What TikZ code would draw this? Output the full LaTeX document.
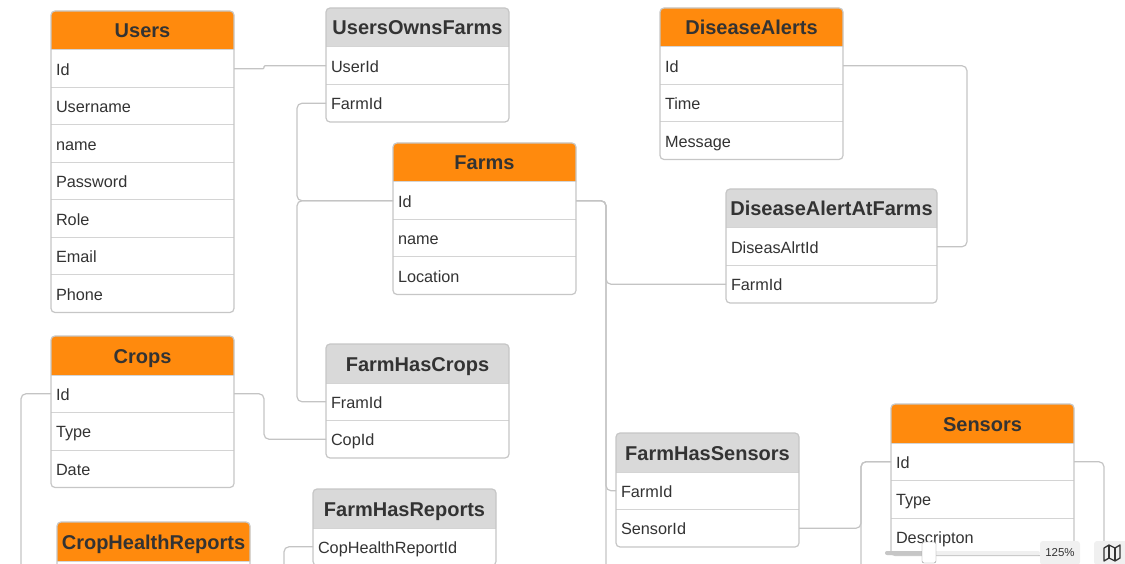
\documentclass[tikz,border=0pt]{standalone}
\usepackage{fontspec}
\setmainfont{Liberation Sans}
\usepackage{tikz}
\usetikzlibrary{positioning}
\definecolor{hdrorange}{HTML}{FF8A0D}
\definecolor{hdrgray}{HTML}{D9D9D9}
\definecolor{boxline}{HTML}{C6C6C6}
\definecolor{rowline}{HTML}{D4D4D4}
\definecolor{linkline}{HTML}{C4C4C4}
\definecolor{txtdark}{HTML}{333333}
\definecolor{uigray}{HTML}{F0F0F0}
\newcommand{\fieldfont}{\fontsize{16.25}{19}\selectfont}
\newcommand{\headfont}{\fontsize{20}{24}\selectfont\bfseries}

\begin{document}
\begin{tikzpicture}[x=1pt,y=-1pt,node distance=0pt,
  tblhead/.style={rectangle,rounded corners=4pt,fill=hdrorange,text=txtdark,font=\headfont,minimum width=183pt,minimum height=43pt,inner sep=0pt,outer sep=0pt,text height=15.5pt,text depth=4.5pt,anchor=north west},
  linkhead/.style={tblhead,fill=hdrgray},
  field/.style={rectangle,fill=white,text=txtdark,font=\fieldfont,inner xsep=5pt,inner ysep=0pt,outer sep=0pt,text width=173pt,align=left,minimum height=37.5pt,text height=16.5pt,text depth=3.5pt,append after command={(\tikzlastnode.north west) edge[sepline] (\tikzlastnode.north east)}},
  sepline/.style={draw=rowline,line width=1pt},
  frame/.style={draw=boxline,line width=1.2pt,rounded corners=4pt},
  link/.style={draw=linkline,line width=1.2pt,rounded corners=5pt},
  zoombadge/.style={rectangle,rounded corners=3pt,fill=uigray,text=txtdark,font=\fontsize{11.5}{13}\selectfont,minimum width=40pt,minimum height=24pt,inner sep=0pt}]
\useasboundingbox (0,0) rectangle (1125,564);

% Users
\node[tblhead] (users-head) at (51,11) {Users};
\node[field,below=-4pt of users-head] (users-id) {Id};
\node[field,below=of users-id] (users-username) {Username};
\node[field,below=of users-username] (users-name) {name};
\node[field,below=of users-name] (users-password) {Password};
\node[field,below=of users-password] (users-role) {Role};
\node[field,below=of users-role] (users-email) {Email};
\node[field,below=of users-email] (users-phone) {Phone};
\draw[frame] (users-head.north west) rectangle (users-phone.south east);

% UsersOwnsFarms
\node[linkhead] (owns-head) at (326,8) {UsersOwnsFarms};
\node[field,below=-4pt of owns-head] (owns-userid) {UserId};
\node[field,below=of owns-userid] (owns-farmid) {FarmId};
\draw[frame] (owns-head.north west) rectangle (owns-farmid.south east);

% Farms
\node[tblhead] (farms-head) at (393,143) {Farms};
\node[field,below=-4pt of farms-head] (farms-id) {Id};
\node[field,below=of farms-id] (farms-name) {name};
\node[field,below=of farms-name] (farms-location) {Location};
\draw[frame] (farms-head.north west) rectangle (farms-location.south east);

% DiseaseAlerts
\node[tblhead] (alerts-head) at (660,8) {DiseaseAlerts};
\node[field,below=-4pt of alerts-head] (alerts-id) {Id};
\node[field,below=of alerts-id] (alerts-time) {Time};
\node[field,below=of alerts-time] (alerts-message) {Message};
\draw[frame] (alerts-head.north west) rectangle (alerts-message.south east);

% DiseaseAlertAtFarms
\node[linkhead,minimum width=211pt] (alertfarm-head) at (726,189) {DiseaseAlertAtFarms};
\node[field,text width=201pt,below=-4pt of alertfarm-head] (alertfarm-alertid) {DiseasAlrtId};
\node[field,text width=201pt,below=of alertfarm-alertid] (alertfarm-farmid) {FarmId};
\draw[frame] (alertfarm-head.north west) rectangle (alertfarm-farmid.south east);

% Crops
\node[tblhead] (crops-head) at (51,336) {Crops};
\node[field,below=-4pt of crops-head] (crops-id) {Id};
\node[field,below=of crops-id] (crops-type) {Type};
\node[field,below=of crops-type] (crops-date) {Date};
\draw[frame] (crops-head.north west) rectangle (crops-date.south east);

% FarmHasCrops
\node[linkhead] (farmcrops-head) at (326,344) {FarmHasCrops};
\node[field,below=-4pt of farmcrops-head] (farmcrops-framid) {FramId};
\node[field,below=of farmcrops-framid] (farmcrops-copid) {CopId};
\draw[frame] (farmcrops-head.north west) rectangle (farmcrops-copid.south east);

% FarmHasReports
\node[linkhead] (farmreports-head) at (313,489) {FarmHasReports};
\node[field,below=-4pt of farmreports-head] (farmreports-reportid) {CopHealthReportId};
\draw[frame] (farmreports-head.north west) rectangle (farmreports-reportid.south east);

% CropHealthReports
\node[tblhead,minimum width=193pt] (reports-head) at (57,522) {CropHealthReports};
\node[field,text width=183pt,below=-4pt of reports-head] (reports-first) {};
\draw[frame] (reports-head.north west) rectangle (reports-first.south east);

% FarmHasSensors
\node[linkhead] (farmsensors-head) at (616,433) {FarmHasSensors};
\node[field,below=-4pt of farmsensors-head] (farmsensors-farmid) {FarmId};
\node[field,below=of farmsensors-farmid] (farmsensors-sensorid) {SensorId};
\draw[frame] (farmsensors-head.north west) rectangle (farmsensors-sensorid.south east);

% Sensors
\node[tblhead] (sensors-head) at (891,404) {Sensors};
\node[field,below=-4pt of sensors-head] (sensors-id) {Id};
\node[field,below=of sensors-id] (sensors-type) {Type};
\node[field,below=of sensors-type] (sensors-descr) {Descripton};
\draw[frame] (sensors-head.north west) rectangle (sensors-descr.south east);

% free ends below the visible area
\coordinate (crops-down) at (21,590);
\coordinate (farmreports-down) at (284,590);
\coordinate (farms-down) at (606,590);
\coordinate (sensors-down) at (861,590);
\coordinate (sensors-right-down) at (1104,590);

% links
\draw[link,rounded corners=1pt] (users-id.east) -- ++(30,0) |- (owns-userid.west);
\draw[link] (owns-farmid.west) -- ++(-29,0) |- (farms-id.west);
\draw[link] (farms-id.west) -- ++(-96,0) |- (farmcrops-framid.west);
\draw[link] (farms-id.east) -- ++(30,0) |- (alertfarm-farmid.west);
\draw[link] (farms-id.east) -- ++(30,0) |- (farmsensors-farmid.west);
\draw[link] (farms-id.east) -| (farms-down);
\draw[link] (alerts-id.east) -- ++(124,0) |- (alertfarm-alertid.east);
\draw[link] (crops-id.east) -- ++(30,0) |- (farmcrops-copid.west);
\draw[link] (crops-id.west) -| (crops-down);
\draw[link] (farmreports-reportid.west) -| (farmreports-down);
\draw[link] (farmsensors-sensorid.east) -- ++(62,0) |- (sensors-id.west);
\draw[link] (sensors-id.west) -| (sensors-down);
\draw[link] (sensors-id.east) -| (sensors-right-down);

% zoom control
\fill[uigray,rounded corners=2pt] (885,551) rectangle (1040,555);
\fill[boxline,rounded corners=2pt] (885,551) rectangle (929,555);
\draw[draw=black!45,fill=white,rounded corners=2pt] (922,542) rectangle (936,563);
\node[zoombadge] (zoom-pct) at (1060,553) {125\%};
\node[zoombadge,minimum width=34pt] (map-btn) at (1111,553) {};
\draw[txtdark,line width=1.3pt,line join=round] (1104,548) -- (1109,545) -- (1115,548) -- (1120,545) -- (1120,558) -- (1115,561) -- (1109,558) -- (1104,561) -- cycle;
\draw[txtdark,line width=1.3pt] (1109,545) -- (1109,558) (1115,548) -- (1115,561);
\end{tikzpicture}
\end{document}
